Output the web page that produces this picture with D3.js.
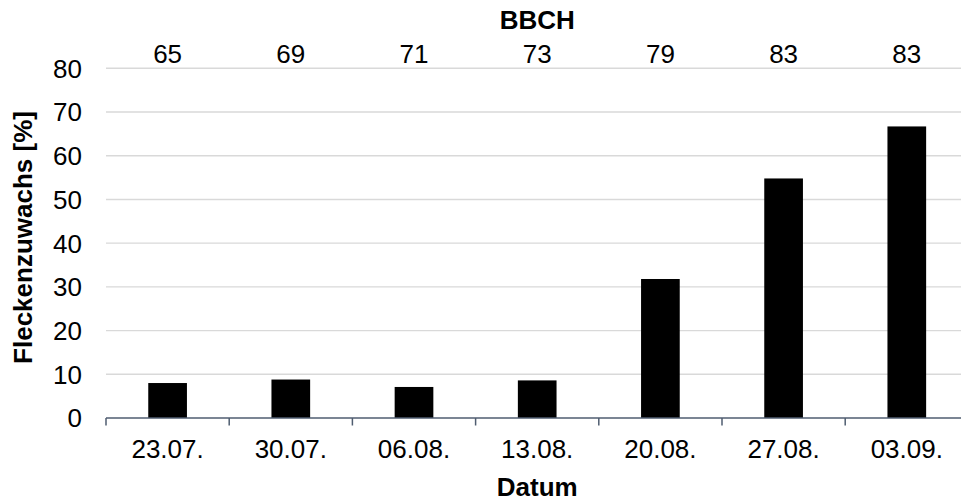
<!DOCTYPE html>
<html>
<head>
<meta charset="utf-8">
<script src="https://cdn.jsdelivr.net/npm/d3@7"></script>
<style>
  html, body { margin: 0; padding: 0; background: #fff; }
  svg { display: block; font-family: "Liberation Sans", Arial, sans-serif; }
</style>
</head>
<body>
<script>
const categories = ["23.07.", "30.07.", "06.08.", "13.08.", "20.08.", "27.08.", "03.09."];
const values = [8.0, 8.8, 7.1, 8.6, 31.8, 54.8, 66.7];
const bbch = ["65", "69", "71", "73", "79", "83", "83"];
const yTicks = [0, 10, 20, 30, 40, 50, 60, 70, 80];

const W = 961, H = 501;
const mLeft = 106, mRight = 968.4, mTop = 68.3, mBottom = 418;
const FS = 26;

const svg = d3.select("body").append("svg").attr("width", W).attr("height", H);

const x = d3.scaleBand().domain(categories).range([mLeft, mRight]).paddingInner(0).paddingOuter(0);
const y = d3.scaleLinear().domain([0, 80]).range([mBottom, mTop]);

// gridlines
svg.append("g").selectAll("line").data(yTicks.filter(d => d > 0)).join("line")
  .attr("x1", mLeft).attr("x2", mRight)
  .attr("y1", d => y(d)).attr("y2", d => y(d))
  .attr("stroke", "#d9d9d9").attr("stroke-width", 1.4);

// bars
const bw = x.bandwidth() * 0.314;
svg.append("g").selectAll("rect").data(values).join("rect")
  .attr("x", (d, i) => x(categories[i]) + x.bandwidth() / 2 - bw / 2)
  .attr("width", bw)
  .attr("y", d => y(d))
  .attr("height", d => y(0) - y(d))
  .attr("fill", "#000");

// x axis line and boundary ticks
svg.append("line").attr("x1", mLeft).attr("x2", mRight).attr("y1", mBottom).attr("y2", mBottom)
  .attr("stroke", "#4f5d70").attr("stroke-width", 1.5);
const boundaries = categories.map(c => x(c)).concat([x(categories[categories.length - 1]) + x.bandwidth()]);
svg.append("g").selectAll("line").data(boundaries).join("line")
  .attr("x1", d => d).attr("x2", d => d)
  .attr("y1", mBottom).attr("y2", mBottom + 7.5)
  .attr("stroke", "#4f5d70").attr("stroke-width", 1.5);

svg.append("g").selectAll("text").data(categories).join("text")
  .attr("x", d => x(d) + x.bandwidth() / 2)
  .attr("y", 458)
  .attr("text-anchor", "middle")
  .attr("font-size", FS).attr("fill", "#000")
  .text(d => d);

// top BBCH labels
svg.append("g").selectAll("text").data(bbch).join("text")
  .attr("x", (d, i) => x(categories[i]) + x.bandwidth() / 2)
  .attr("y", 63)
  .attr("text-anchor", "middle")
  .attr("font-size", FS).attr("fill", "#000")
  .text(d => d);

// y tick labels
svg.append("g").selectAll("text").data(yTicks).join("text")
  .attr("x", 82)
  .attr("y", d => y(d))
  .attr("dy", "0.36em")
  .attr("text-anchor", "end")
  .attr("font-size", FS).attr("fill", "#000")
  .text(d => d);

// titles
svg.append("text").attr("x", (mLeft + mRight) / 2).attr("y", 29.3)
  .attr("text-anchor", "middle").attr("font-size", FS).attr("font-weight", "bold")
  .text("BBCH");
svg.append("text").attr("x", (mLeft + mRight) / 2).attr("y", 495.5)
  .attr("text-anchor", "middle").attr("font-size", FS).attr("font-weight", "bold")
  .text("Datum");
svg.append("text")
  .attr("transform", `translate(32,237.5) rotate(-90)`)
  .attr("text-anchor", "middle").attr("font-size", FS).attr("font-weight", "bold")
  .text("Fleckenzuwachs [%]");
</script>
</body>
</html>
